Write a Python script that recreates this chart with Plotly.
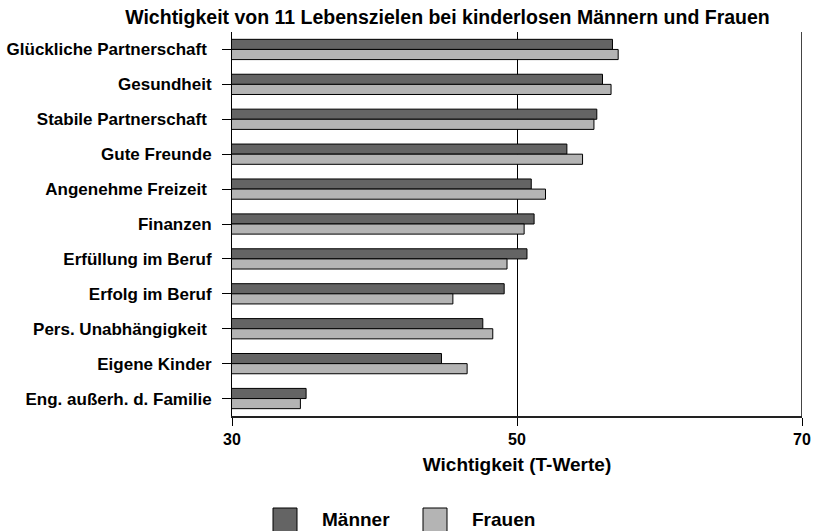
import plotly.graph_objects as go

categories = ["Glückliche Partnerschaft\u00a0", "Gesundheit", "Stabile Partnerschaft\u00a0", "Gute Freunde",
              "Angenehme Freizeit\u00a0", "Finanzen", "Erfüllung im Beruf", "Erfolg im Beruf",
              "Pers. Unabhängigkeit\u00a0", "Eigene Kinder", "Eng. außerh. d. Familie"]
maenner = [56.7, 56.0, 55.6, 53.5, 51.0, 51.2, 50.7, 49.1, 47.6, 44.7, 35.2]
frauen = [57.1, 56.6, 55.4, 54.6, 52.0, 50.5, 49.3, 45.5, 48.3, 46.5, 34.8]
series_names = ["Männer", "Frauen"]
series_colors = ["#646464", "#b4b4b4"]
x_ticks = [30, 50, 70]

font_family = "Liberation Sans, Arial, sans-serif"

W, H = 815, 531
fig = go.Figure()
for name, vals, col in zip(series_names, [maenner, frauen], series_colors):
    fig.add_trace(go.Bar(y=categories, x=vals, name=name, orientation="h",
                         marker=dict(color=col, line=dict(color="#000000", width=1)),
                         showlegend=False))

fig.update_layout(
    width=W, height=H,
    paper_bgcolor="white", plot_bgcolor="white",
    margin=dict(l=232, r=13, t=32, b=115, autoexpand=False),
    barmode="group", bargap=0.42, bargroupgap=0,
    title=dict(text="<b>Wichtigkeit von 11 Lebenszielen bei kinderlosen Männern und Frauen</b>",
               xref="container", yref="container",
               x=447.5 / W, xanchor="center", y=1 - 17.5 / H, yanchor="middle",
               font=dict(family=font_family, size=19.5, color="black")),
    font=dict(family=font_family, color="black"),
    showlegend=False,
)

# vertical line at the right end of the scale
fig.add_shape(type="line", xref="x", yref="paper", x0=70, x1=70, y0=0, y1=1,
              line=dict(color="#444444", width=2))

# custom legend (large swatches like the reference), positions relative to plot area
def px_x(px):
    return (px - 232) / 570.0

def px_y(py):
    return (416 - py) / 384.0

legend_items = [(273, 297, 320), (423, 447, 470)]
for (sx0, sx1, tx), name, col in zip(legend_items, series_names, series_colors):
    fig.add_shape(type="rect", xref="paper", yref="paper",
                  x0=px_x(sx0), x1=px_x(sx1), y0=px_y(540), y1=px_y(508),
                  fillcolor=col, line=dict(color="black", width=1))
    fig.add_annotation(xref="paper", yref="paper", x=px_x(tx), y=px_y(519),
                       xanchor="left", yanchor="middle", showarrow=False,
                       text=f"<b>{name}</b>", font=dict(size=19, color="black"))

fig.update_xaxes(range=[30, 70], tickvals=x_ticks, ticktext=[f"<b>{t}</b>" for t in x_ticks],
                 showline=True, linecolor="#222222", linewidth=2,
                 ticks="outside", ticklen=8, tickcolor="black",
                 showgrid=True, gridcolor="black", gridwidth=1, zeroline=False,
                 tickfont=dict(size=16), automargin=False,
                 title=dict(text="<b>Wichtigkeit (T-Werte)</b>", font=dict(size=19), standoff=10))
fig.update_yaxes(autorange="reversed", showline=True, linecolor="black", linewidth=1,
                 ticks="outside", ticklen=9, tickcolor="black",
                 showgrid=False, ticklabelstandoff=7, automargin=False,
                 tickvals=categories, ticktext=[f"<b>{c}</b>" for c in categories],
                 tickfont=dict(size=17))

fig.write_html("out.html", config={"displayModeBar": False},
               post_script="document.body.style.margin='0';document.body.style.overflow='hidden';")
